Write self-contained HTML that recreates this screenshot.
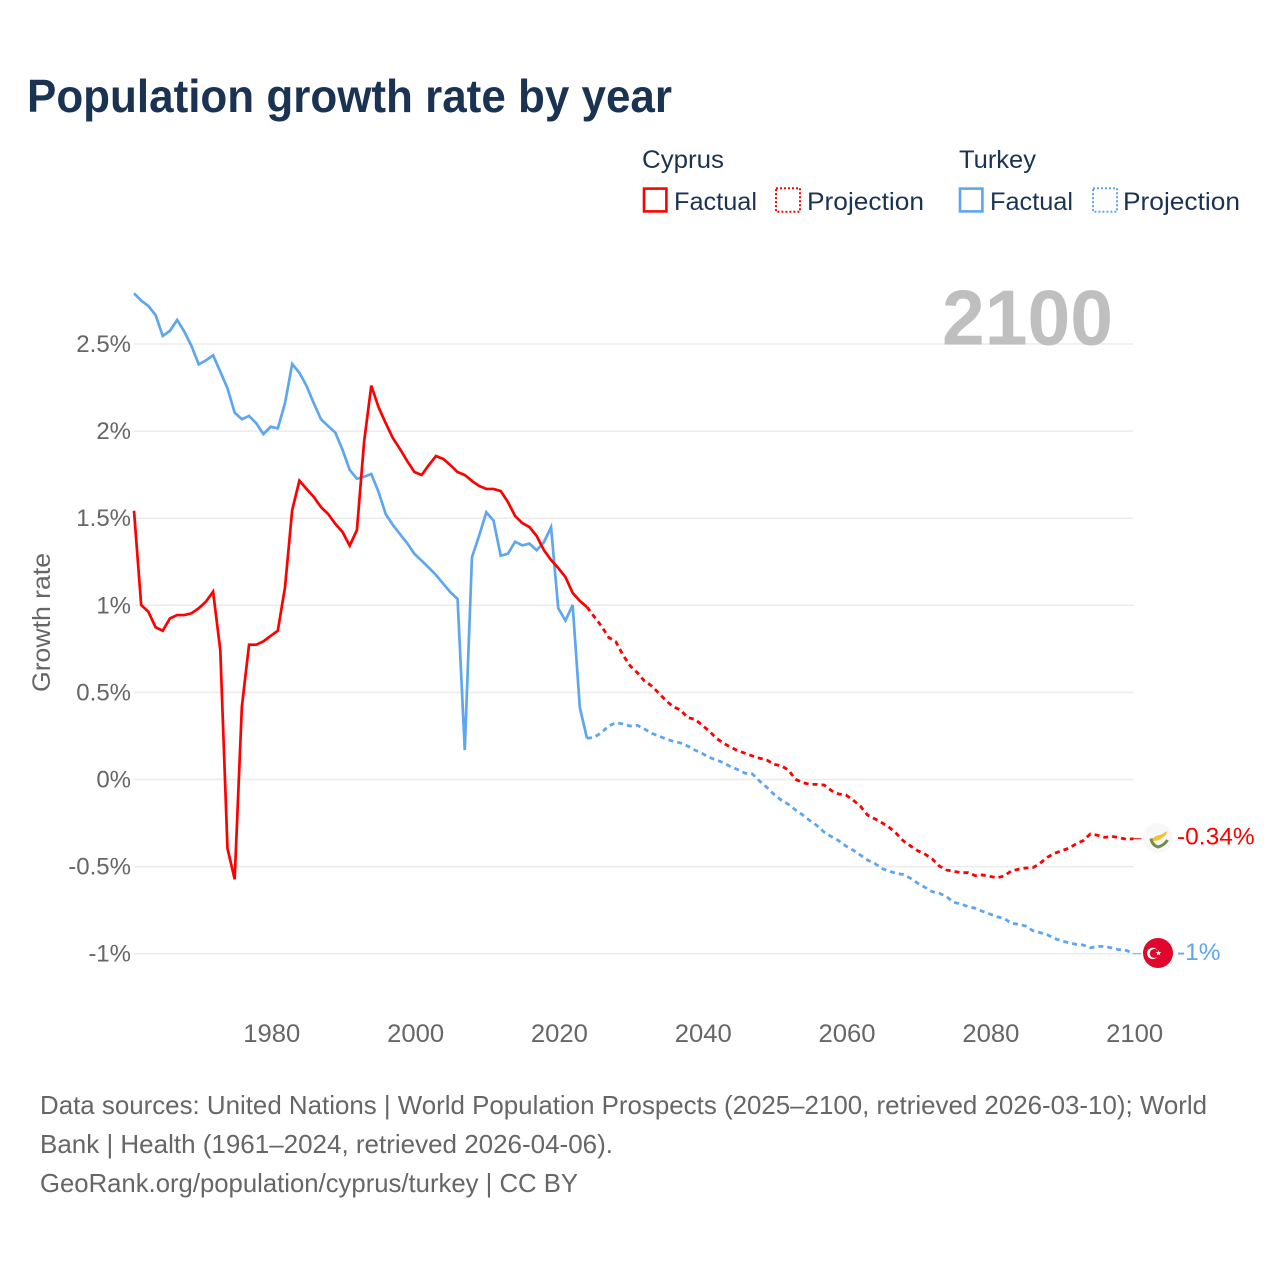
<!DOCTYPE html>
<html lang="en">
<head>
<meta charset="utf-8">
<title>Population growth rate by year</title>
<style>
html,body{margin:0;padding:0;background:#fff;}
svg{display:block;font-family:"Liberation Sans",sans-serif;}
</style>
</head>
<body>
<svg id="chart" xmlns="http://www.w3.org/2000/svg" width="1280" height="1280" viewBox="0 0 1280 1280">
  <rect width="1280" height="1280" fill="#fff"/>
  <text x="27" y="112" font-size="46" font-weight="700" fill="#1b3353" textLength="645" lengthAdjust="spacingAndGlyphs">Population growth rate by year</text>

  <g font-size="25" fill="#1b3353">
    <text x="642" y="168" textLength="82" lengthAdjust="spacingAndGlyphs">Cyprus</text>
    <text x="959" y="168" textLength="77" lengthAdjust="spacingAndGlyphs">Turkey</text>
    <rect x="644" y="188.6" width="22.4" height="22.8" fill="none" stroke="#ff0000" stroke-width="2.6"/>
    <text x="674" y="210" textLength="83" lengthAdjust="spacingAndGlyphs">Factual</text>
    <rect x="776" y="188.3" width="24" height="23.4" fill="none" stroke="#ff0000" stroke-width="2" stroke-dasharray="2 2"/>
    <text x="807" y="210" textLength="117" lengthAdjust="spacingAndGlyphs">Projection</text>
    <rect x="960" y="188.6" width="22.4" height="22.8" fill="none" stroke="#5ea6ee" stroke-width="2.6"/>
    <text x="990" y="210" textLength="83" lengthAdjust="spacingAndGlyphs">Factual</text>
    <rect x="1093" y="188.3" width="24" height="23.4" fill="none" stroke="#5ea6ee" stroke-width="2" stroke-dasharray="2 2"/>
    <text x="1123" y="210" textLength="117" lengthAdjust="spacingAndGlyphs">Projection</text>
  </g>

  <text transform="translate(50,622.5) rotate(-90)" text-anchor="middle" font-size="25" fill="#666" textLength="139" lengthAdjust="spacingAndGlyphs">Growth rate</text>

  <g id="grid"></g>
  <g id="yTicks" font-size="24" fill="#666" text-anchor="end"></g>
  <g id="xTicks" font-size="25" fill="#666" text-anchor="middle"></g>

  <text x="942" y="344.5" font-size="78" font-weight="700" fill="#bfbfbf" textLength="171" lengthAdjust="spacingAndGlyphs">2100</text>

  <g id="series"></g>
  <g id="ends" font-size="24.5"></g>

  <g transform="translate(1158,838)">
    <circle r="15" fill="#f8f8f8"/>
    <path d="M-6,0.5 L-2,-2 L3,-3.5 L9.5,-7 L7.5,-2.5 L3,0.5 L0,2.5 L-4.5,3 Z" fill="#f5c32e"/>
    <path d="M-7,0.5 Q-6,7 0,9 Q6,7.5 9.5,2" fill="none" stroke="#6f8f4a" stroke-width="3"/>
  </g>
  <g transform="translate(1158,953)">
    <circle r="15" fill="#e0062c"/>
    <circle cx="-5.3" cy="0.4" r="5.7" fill="#fff"/>
    <circle cx="-3.7" cy="0.4" r="4.5" fill="#e0062c"/>
    <polygon points="0.5,-2.8 1.3,-0.9 3.3,-0.9 1.7,0.4 2.3,2.4 0.5,1.3 -1.3,2.4 -0.7,0.4 -2.3,-0.9 -0.3,-0.9" fill="#fff"/>
  </g>

  <g font-size="26" fill="#666">
    <text x="40" y="1114" textLength="1167" lengthAdjust="spacingAndGlyphs">Data sources: United Nations | World Population Prospects (2025–2100, retrieved 2026-03-10); World</text>
    <text x="40" y="1153" textLength="573" lengthAdjust="spacingAndGlyphs">Bank | Health (1961–2024, retrieved 2026-04-06).</text>
    <text x="40" y="1192" textLength="538" lengthAdjust="spacingAndGlyphs">GeoRank.org/population/cyprus/turkey | CC BY</text>
  </g>
</svg>
<script>
const factualYears = [1961,1962,1963,1964,1965,1966,1967,1968,1969,1970,1971,1972,1973,1974,1975,1976,1977,1978,1979,1980,1981,1982,1983,1984,1985,1986,1987,1988,1989,1990,1991,1992,1993,1994,1995,1996,1997,1998,1999,2000,2001,2002,2003,2004,2005,2006,2007,2008,2009,2010,2011,2012,2013,2014,2015,2016,2017,2018,2019,2020,2021,2022,2023,2024];
const projectionYears = [2024,2025,2026,2027,2028,2029,2030,2031,2032,2033,2034,2035,2036,2037,2038,2039,2040,2041,2042,2043,2044,2045,2046,2047,2048,2049,2050,2051,2052,2053,2054,2055,2056,2057,2058,2059,2060,2061,2062,2063,2064,2065,2066,2067,2068,2069,2070,2071,2072,2073,2074,2075,2076,2077,2078,2079,2080,2081,2082,2083,2084,2085,2086,2087,2088,2089,2090,2091,2092,2093,2094,2095,2096,2097,2098,2099,2100];
const cyprusFactual = [1.543,1.002,0.963,0.874,0.854,0.925,0.944,0.944,0.954,0.983,1.021,1.078,0.743,-0.395,-0.573,0.418,0.774,0.774,0.793,0.824,0.854,1.103,1.547,1.715,1.668,1.622,1.564,1.524,1.467,1.421,1.342,1.432,1.939,2.261,2.138,2.046,1.960,1.897,1.828,1.765,1.748,1.805,1.857,1.840,1.805,1.765,1.748,1.714,1.685,1.668,1.668,1.656,1.593,1.513,1.472,1.449,1.398,1.317,1.260,1.214,1.162,1.071,1.025,0.990];
const cyprusProjection = [0.990,0.935,0.881,0.816,0.791,0.715,0.652,0.613,0.565,0.537,0.495,0.452,0.418,0.399,0.355,0.346,0.313,0.278,0.236,0.208,0.185,0.165,0.150,0.135,0.122,0.112,0.087,0.079,0.055,0.001,-0.018,-0.028,-0.028,-0.032,-0.064,-0.083,-0.089,-0.118,-0.152,-0.204,-0.225,-0.248,-0.274,-0.309,-0.353,-0.382,-0.409,-0.428,-0.456,-0.497,-0.520,-0.527,-0.535,-0.535,-0.552,-0.548,-0.556,-0.564,-0.554,-0.525,-0.515,-0.508,-0.506,-0.481,-0.447,-0.424,-0.409,-0.395,-0.370,-0.351,-0.313,-0.320,-0.332,-0.326,-0.334,-0.343,-0.34];
const turkeyFactual = [2.791,2.749,2.718,2.666,2.546,2.576,2.638,2.571,2.488,2.383,2.406,2.435,2.341,2.246,2.106,2.068,2.087,2.045,1.983,2.025,2.016,2.160,2.385,2.335,2.259,2.160,2.068,2.029,1.991,1.892,1.777,1.727,1.738,1.754,1.652,1.524,1.461,1.408,1.356,1.295,1.256,1.216,1.174,1.124,1.075,1.036,0.169,1.276,1.400,1.534,1.486,1.285,1.296,1.365,1.344,1.354,1.316,1.362,1.448,0.983,0.912,1.002,0.414,0.236];
const turkeyProjection = [0.236,0.242,0.269,0.307,0.326,0.319,0.307,0.311,0.290,0.265,0.250,0.232,0.219,0.210,0.192,0.169,0.150,0.127,0.112,0.096,0.073,0.056,0.036,0.032,-0.009,-0.045,-0.085,-0.118,-0.142,-0.175,-0.204,-0.236,-0.265,-0.303,-0.328,-0.351,-0.382,-0.405,-0.433,-0.462,-0.481,-0.510,-0.527,-0.538,-0.546,-0.567,-0.596,-0.619,-0.644,-0.653,-0.673,-0.705,-0.715,-0.730,-0.739,-0.757,-0.772,-0.788,-0.797,-0.825,-0.831,-0.841,-0.868,-0.879,-0.891,-0.912,-0.927,-0.937,-0.946,-0.950,-0.966,-0.958,-0.958,-0.967,-0.977,-0.981,-1.0];
const yTickValues = [2.5,2,1.5,1,0.5,0,-0.5,-1];
const yTickLabels = ["2.5%","2%","1.5%","1%","0.5%","0%","-0.5%","-1%"];
const xTickValues = [1980,2000,2020,2040,2060,2080,2100];
const xTickLabels = ["1980","2000","2020","2040","2060","2080","2100"];
const endValueLabels = ["-0.34%","-1%"];

const NS = "http://www.w3.org/2000/svg";
const xScale = function (year) { return 134 + (year - 1961) * (1133.5 - 134) / (2100 - 1961); };
const yScale = function (value) { return 779.5 - value * 174.2; };
const linePath = function (years, values) {
  return values.map(function (v, i) {
    return (i ? "L" : "M") + xScale(years[i]).toFixed(2) + "," + yScale(v).toFixed(2);
  }).join(" ");
};

const gridGroup = document.getElementById("grid");
const yTickGroup = document.getElementById("yTicks");
yTickValues.forEach(function (v, i) {
  const gridLine = document.createElementNS(NS, "line");
  
  
  gridLine.setAttribute("x1", xScale(1961));
  gridLine.setAttribute("x2", xScale(2100));
  gridLine.setAttribute("y1", yScale(v));
  gridLine.setAttribute("y2", yScale(v));
  gridLine.setAttribute("stroke", "#ebebeb");
  gridLine.setAttribute("stroke-width", "1.5");
  gridGroup.appendChild(gridLine);

  const yLabel = document.createElementNS(NS, "text");
  
  
  yLabel.setAttribute("x", 131);
  yLabel.setAttribute("y", yScale(v) + 8);
  yLabel.textContent = yTickLabels[i];
  yTickGroup.appendChild(yLabel);
});

const xTickGroup = document.getElementById("xTicks");
xTickValues.forEach(function (year, i) {
  const xLabel = document.createElementNS(NS, "text");
  
  
  xLabel.setAttribute("x", xScale(year) + 1.2);
  xLabel.setAttribute("y", 1042);
  xLabel.setAttribute("textLength", "57");
  xLabel.setAttribute("lengthAdjust", "spacingAndGlyphs");
  xLabel.textContent = xTickLabels[i];
  xTickGroup.appendChild(xLabel);
});

const seriesGroup = document.getElementById("series");

const turkeyFactualLine = document.createElementNS(NS, "path");


turkeyFactualLine.setAttribute("d", linePath(factualYears, turkeyFactual));
turkeyFactualLine.setAttribute("fill", "none");
turkeyFactualLine.setAttribute("stroke", "#5ea6ee");
turkeyFactualLine.setAttribute("stroke-width", "2.7");
seriesGroup.appendChild(turkeyFactualLine);

const turkeyProjectionLine = document.createElementNS(NS, "path");


turkeyProjectionLine.setAttribute("d", linePath(projectionYears, turkeyProjection));
turkeyProjectionLine.setAttribute("fill", "none");
turkeyProjectionLine.setAttribute("stroke", "#5ea6ee");
turkeyProjectionLine.setAttribute("stroke-width", "2.8");
turkeyProjectionLine.setAttribute("stroke-dasharray", "5 4");
seriesGroup.appendChild(turkeyProjectionLine);

const cyprusFactualLine = document.createElementNS(NS, "path");


cyprusFactualLine.setAttribute("d", linePath(factualYears, cyprusFactual));
cyprusFactualLine.setAttribute("fill", "none");
cyprusFactualLine.setAttribute("stroke", "#ff0000");
cyprusFactualLine.setAttribute("stroke-width", "2.7");
seriesGroup.appendChild(cyprusFactualLine);

const cyprusProjectionLine = document.createElementNS(NS, "path");


cyprusProjectionLine.setAttribute("d", linePath(projectionYears, cyprusProjection));
cyprusProjectionLine.setAttribute("fill", "none");
cyprusProjectionLine.setAttribute("stroke", "#ff0000");
cyprusProjectionLine.setAttribute("stroke-width", "2.8");
cyprusProjectionLine.setAttribute("stroke-dasharray", "5 4");
seriesGroup.appendChild(cyprusProjectionLine);

const endsGroup = document.getElementById("ends");
const lastCyprus = cyprusProjection[cyprusProjection.length - 1];
const lastTurkey = turkeyProjection[turkeyProjection.length - 1];

const cyprusConnector = document.createElementNS(NS, "line");


cyprusConnector.setAttribute("x1", xScale(2100));
cyprusConnector.setAttribute("x2", xScale(2100) + 8);
cyprusConnector.setAttribute("y1", yScale(lastCyprus));
cyprusConnector.setAttribute("y2", yScale(lastCyprus));
cyprusConnector.setAttribute("stroke", "#ff0000");
cyprusConnector.setAttribute("stroke-width", "1");
endsGroup.appendChild(cyprusConnector);

const turkeyConnector = document.createElementNS(NS, "line");


turkeyConnector.setAttribute("x1", xScale(2100));
turkeyConnector.setAttribute("x2", xScale(2100) + 8);
turkeyConnector.setAttribute("y1", yScale(lastTurkey));
turkeyConnector.setAttribute("y2", yScale(lastTurkey));
turkeyConnector.setAttribute("stroke", "#5ea6ee");
turkeyConnector.setAttribute("stroke-width", "1");
endsGroup.appendChild(turkeyConnector);

const cyprusEndLabel = document.createElementNS(NS, "text");


cyprusEndLabel.setAttribute("x", 1177);
cyprusEndLabel.setAttribute("y", yScale(lastCyprus) + 6);
cyprusEndLabel.setAttribute("fill", "#ff0000");
cyprusEndLabel.textContent = endValueLabels[0];
endsGroup.appendChild(cyprusEndLabel);

const turkeyEndLabel = document.createElementNS(NS, "text");


turkeyEndLabel.setAttribute("x", 1177);
turkeyEndLabel.setAttribute("y", yScale(lastTurkey) + 6.5);
turkeyEndLabel.setAttribute("fill", "#5ea6ee");
turkeyEndLabel.textContent = endValueLabels[1];
endsGroup.appendChild(turkeyEndLabel);
</script>
</body>
</html>
